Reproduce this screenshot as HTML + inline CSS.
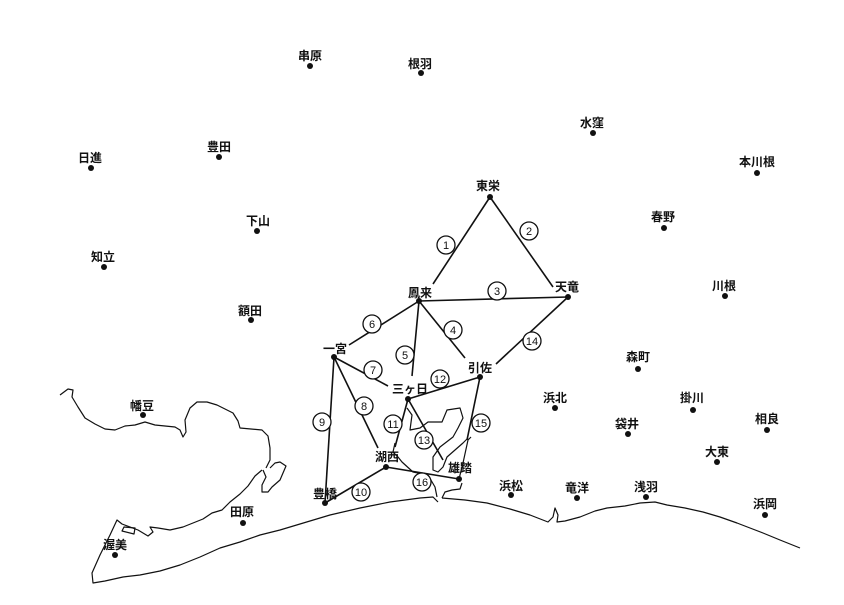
<!DOCTYPE html>
<html><head><meta charset="utf-8"><style>
html,body{margin:0;padding:0;background:#fff;}
svg{display:block;}
text{font-family:"Liberation Sans","Noto Sans CJK JP",sans-serif;font-size:12px;font-weight:bold;fill:#111;text-anchor:middle;}
.n{font-size:11px;font-weight:normal;}
</style></head><body>
<svg width="844" height="605" viewBox="0 0 844 605" xmlns="http://www.w3.org/2000/svg">
<g fill="none" stroke="#111" stroke-width="1.2" stroke-linejoin="round">
<path d="M60,395 L68,389 L73,390 L72,397 L78,407 L85,418 L95,424 L105,429 L115,430 L125,426 L135,425 L145,422 L155,425 L165,426 L175,427 L180,430 L183,437 L186,432 L185,420 L190,408 L197,402 L207,402 L217,405 L227,410 L233,413 L238,421 L240,428 L262,430 L268,436 L270,448 L270,460 L266,468"/>
<path d="M262,470 L255,476 L248,486 L240,494 L230,502 L222,510 L212,513 L203,519 L193,523 L183,527 L170,530 L158,528 L150,527 L153,532 L148,536 L138,530 L122,524 L117,520 L110,535 L100,555 L92,573 L93,583 L105,581 L123,577 L140,575 L160,571 L180,565 L200,557 L220,548 L240,542 L260,535 L280,530 L300,524 L330,515 L360,508 L390,502 L420,498 L433,497 L438,502"/>
<path d="M270,468 L275,463 L280,462 L286,466 L283,473 L280,480 L272,487 L268,492 L262,492 L262,485 L266,477 L263,470"/>
<path d="M135,528 L124,527 L122,531 L134,534 Z"/>
<path d="M442,498 L445,492 L452,490 L460,489 L462,483"/>
<path d="M442,498 L465,500 L487,503 L510,509 L530,515 L548,522 L553,517 L555,508 L558,515 L557,522 L565,521 L580,517 L595,511 L607,508 L625,506 L640,503 L655,502 L667,505 L685,508 L703,512 L720,517 L737,523 L750,528 L763,533 L780,540 L800,548"/>
<path d="M395,443 L393,452 L398,457 L402,462 L413,472 L428,475 L435,487 L437,497"/>
<path d="M468,438 L463,443 L455,450 L447,457 L443,467 L438,472 L433,470 L433,457 L440,447 L453,437 L458,428 L463,418 L460,408 L447,410 L442,422 L428,422 L420,428 L410,430 L412,415 L407,408"/>
<path d="M459,479 L463,463 L468,440 L471,437"/>
</g>
<g stroke="#111" stroke-width="1.6" fill="none">
<line x1="490" y1="197" x2="433" y2="284"/>
<line x1="490" y1="197" x2="553" y2="287"/>
<line x1="419" y1="301" x2="568" y2="297"/>
<line x1="419" y1="301" x2="465" y2="358"/>
<line x1="419" y1="301" x2="412" y2="376"/>
<line x1="419" y1="301" x2="349" y2="345"/>
<line x1="334" y1="357" x2="388" y2="386"/>
<line x1="334" y1="357" x2="378" y2="448"/>
<line x1="334" y1="357" x2="325" y2="503"/>
<line x1="325" y1="503" x2="386" y2="467"/>
<line x1="408" y1="399" x2="395" y2="447"/>
<line x1="408" y1="399" x2="480" y2="377"/>
<line x1="408" y1="399" x2="443" y2="460"/>
<line x1="568" y1="297" x2="496" y2="364"/>
<line x1="480" y1="377" x2="467" y2="440"/>
<line x1="386" y1="467" x2="459" y2="479"/>
</g>
<g fill="#111">
<circle cx="490" cy="197" r="3"/><circle cx="568" cy="297" r="3"/><circle cx="419" cy="301" r="3"/>
<circle cx="334" cy="357" r="3"/><circle cx="480" cy="377" r="3"/><circle cx="408" cy="399" r="3"/>
<circle cx="386" cy="467" r="3"/><circle cx="459" cy="479" r="3"/><circle cx="325" cy="503" r="3"/>
<circle cx="310" cy="66" r="3"/><circle cx="421" cy="73" r="3"/><circle cx="593" cy="133" r="3"/>
<circle cx="91" cy="168" r="3"/><circle cx="219" cy="157" r="3"/><circle cx="757" cy="173" r="3"/>
<circle cx="257" cy="231" r="3"/><circle cx="664" cy="228" r="3"/><circle cx="104" cy="267" r="3"/>
<circle cx="725" cy="296" r="3"/><circle cx="251" cy="320" r="3"/><circle cx="638" cy="369" r="3"/>
<circle cx="143" cy="415" r="3"/><circle cx="555" cy="408" r="3"/><circle cx="693" cy="410" r="3"/>
<circle cx="628" cy="434" r="3"/><circle cx="767" cy="430" r="3"/><circle cx="717" cy="462" r="3"/>
<circle cx="511" cy="495" r="3"/><circle cx="577" cy="498" r="3"/><circle cx="646" cy="497" r="3"/>
<circle cx="765" cy="515" r="3"/><circle cx="243" cy="523" r="3"/><circle cx="115" cy="555" r="3"/>
</g>
<g>
<text x="488" y="190">東栄</text><text x="567" y="291">天竜</text><text x="420" y="297">鳳来</text>
<text x="335" y="353">一宮</text><text x="480" y="372">引佐</text><text x="410" y="393">三ヶ日</text>
<text x="387" y="461">湖西</text><text x="460" y="472">雄踏</text><text x="325" y="498">豊橋</text>
<text x="310" y="60">串原</text><text x="420" y="68">根羽</text><text x="592" y="127">水窪</text>
<text x="90" y="162">日進</text><text x="219" y="151">豊田</text><text x="757" y="166">本川根</text>
<text x="258" y="225">下山</text><text x="663" y="221">春野</text><text x="103" y="261">知立</text>
<text x="724" y="290">川根</text><text x="250" y="315">額田</text><text x="638" y="361">森町</text>
<text x="142" y="410">幡豆</text><text x="555" y="402">浜北</text><text x="692" y="402">掛川</text>
<text x="627" y="428">袋井</text><text x="767" y="423">相良</text><text x="717" y="456">大東</text>
<text x="511" y="490">浜松</text><text x="577" y="492">竜洋</text><text x="646" y="491">浅羽</text>
<text x="765" y="508">浜岡</text><text x="242" y="516">田原</text><text x="115" y="549">渥美</text>
</g>
<g fill="#fff" stroke="#111" stroke-width="1.3">
<circle cx="446" cy="245" r="9"/><circle cx="529" cy="231" r="9"/><circle cx="497" cy="291" r="9"/>
<circle cx="453" cy="330" r="9"/><circle cx="405" cy="355" r="9"/><circle cx="372" cy="324" r="9"/>
<circle cx="373" cy="370" r="9"/><circle cx="364" cy="406" r="9"/><circle cx="322" cy="422" r="9"/>
<circle cx="361" cy="492" r="9"/><circle cx="393" cy="424" r="9"/><circle cx="440" cy="379" r="9"/>
<circle cx="424" cy="440" r="9"/><circle cx="532" cy="341" r="9"/><circle cx="481" cy="423" r="9"/>
<circle cx="422" cy="482" r="9"/>
</g>
<g>
<text class="n" x="446" y="249">1</text><text class="n" x="529" y="235">2</text><text class="n" x="497" y="295">3</text>
<text class="n" x="453" y="334">4</text><text class="n" x="405" y="359">5</text><text class="n" x="372" y="328">6</text>
<text class="n" x="373" y="374">7</text><text class="n" x="364" y="410">8</text><text class="n" x="322" y="426">9</text>
<text class="n" x="361" y="496">10</text><text class="n" x="393" y="428">11</text><text class="n" x="440" y="383">12</text>
<text class="n" x="424" y="444">13</text><text class="n" x="532" y="345">14</text><text class="n" x="481" y="427">15</text>
<text class="n" x="422" y="486">16</text>
</g>
</svg>
</body></html>
